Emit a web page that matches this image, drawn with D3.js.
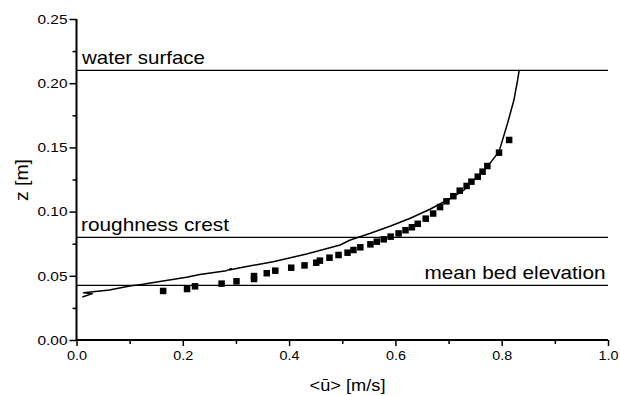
<!DOCTYPE html>
<html><head><meta charset="utf-8">
<script src="https://cdn.jsdelivr.net/npm/d3@7"></script>
<style>
html,body{margin:0;padding:0;background:#fff;}
svg{display:block;}
text{font-family:"Liberation Sans",Arial,Helvetica,sans-serif;fill:#000;}
</style></head>
<body>
<svg id="chart" width="620" height="396"></svg>
<script>
// measured points
const measU = [0.163,0.208,0.223,0.273,0.301,0.334,0.334,0.358,0.374,0.404,0.429,0.451,0.458,0.476,0.493,0.510,0.521,0.534,0.553,0.565,0.578,0.591,0.606,0.619,0.631,0.642,0.657,0.671,0.684,0.696,0.709,0.721,0.734,0.743,0.755,0.764,0.773,0.795,0.814];
const measZ = [0.0382,0.0397,0.0418,0.0439,0.0457,0.0475,0.0498,0.0520,0.0540,0.0563,0.0581,0.0602,0.0618,0.0641,0.0662,0.0680,0.0701,0.0722,0.0745,0.0766,0.0784,0.0805,0.0830,0.0855,0.0878,0.0905,0.0945,0.0985,0.1035,0.1080,0.1120,0.1163,0.1200,0.1233,0.1272,0.1311,0.1355,0.1459,0.1558];
// model profile
const modelU = [0.011,0.030,0.013,0.062,0.100,0.125,0.157,0.207,0.232,0.282,0.291,0.287,0.308,0.370,0.433,0.496,0.515,0.553,0.591,0.628,0.666,0.704,0.729,0.773,0.795,0.811,0.823,0.830,0.833];
const modelZ = [0.0335,0.0361,0.0368,0.0389,0.0421,0.0434,0.0456,0.0488,0.0510,0.0540,0.0556,0.0546,0.0563,0.0610,0.0670,0.0740,0.0779,0.0831,0.0888,0.0948,0.1020,0.1104,0.1168,0.1350,0.1467,0.1688,0.1869,0.2025,0.2103];
// reference levels
const levelNames = ["water surface","roughness crest","mean bed elevation"];
const levelZ = [0.21,0.08,0.0425];
// ticks
const xMajor = [0,0.2,0.4,0.6,0.8,1.0];
const xMajorLabels = ["0.0","0.2","0.4","0.6","0.8","1.0"];
const xMinor = [0.1,0.3,0.5,0.7,0.9];
const yMajor = [0,0.05,0.10,0.15,0.20,0.25];
const yMajorLabels = ["0.00","0.05","0.10","0.15","0.20","0.25"];
const yMinor = [0.025,0.075,0.125,0.175,0.225];
const xTitle = "<ū> [m/s]";
const yTitle = "z [m]";

const svg = d3.select("#chart");
const x = d3.scaleLinear().domain([0,1]).range([76.5,608]);
const y = d3.scaleLinear().domain([0,0.25]).range([340,19]);

// reference level lines
svg.selectAll("line.level").data(levelZ).enter().append("line")
  .attr("x1",x(0)).attr("x2",x(1))
  .attr("y1",d=>y(d)).attr("y2",d=>y(d))
  .attr("stroke","#000").attr("stroke-width",1.3);

// level labels
const lbl = [
  {t:levelNames[0], x:x(0)+5.5, y:y(levelZ[0])-6.5, a:"start", len:123},
  {t:levelNames[1], x:x(0)+4.5, y:y(levelZ[1])-6.5, a:"start", len:148},
  {t:levelNames[2], x:x(1)-2.5, y:y(levelZ[2])-6.5, a:"end", len:181}
];
svg.selectAll("text.lvl").data(lbl).enter().append("text")
  .attr("x",d=>d.a==="end"?d.x-d.len:d.x).attr("y",d=>d.y)
  .attr("font-size",19).attr("textLength",d=>d.len).attr("lengthAdjust","spacingAndGlyphs")
  .text(d=>d.t);

// model curve
const line = d3.line().x(d=>x(d[0])).y(d=>y(d[1]));
svg.append("path").datum(modelU.map((u,i)=>[u,modelZ[i]]))
  .attr("d",line).attr("fill","none").attr("stroke","#000").attr("stroke-width",1.5)
  .attr("stroke-linejoin","round");

// measured squares
const s = 6.5;
svg.selectAll("rect.pt").data(measU.map((u,i)=>[u,measZ[i]])).enter().append("rect")
  .attr("x",d=>x(d[0])-s/2).attr("y",d=>y(d[1])-s/2).attr("width",s).attr("height",s)
  .attr("fill","#000");

// axes
const xAxis = d3.axisBottom(x).tickValues(xMajor).tickSize(6).tickPadding(4)
  .tickFormat((d,i)=>xMajorLabels[i]);
const gx = svg.append("g").attr("transform",`translate(0,${y(0)})`).call(xAxis);
gx.select(".domain").attr("stroke-width",2).attr("d",`M${x(0)},0H${x(1)}`);
gx.selectAll(".tick line").attr("stroke-width",1.5);
gx.selectAll(".tick text").attr("font-size",13.5).attr("font-family","Liberation Sans, Arial, sans-serif")
  .attr("textLength",20).attr("lengthAdjust","spacingAndGlyphs");
const gxm = svg.append("g").attr("transform",`translate(0,${y(0)})`)
  .call(d3.axisBottom(x).tickValues(xMinor).tickSize(4).tickFormat(""));
gxm.select(".domain").remove();
gxm.selectAll(".tick line").attr("stroke-width",1.5);

const yAxis = d3.axisLeft(y).tickValues(yMajor).tickSize(7).tickPadding(2)
  .tickFormat((d,i)=>yMajorLabels[i]);
const gy = svg.append("g").attr("transform",`translate(${x(0)},0)`).call(yAxis);
gy.select(".domain").attr("stroke-width",2).attr("d",`M0,${y(0)+1}V${y(0.25)}`);
gy.selectAll(".tick line").attr("stroke-width",1.5);
gy.selectAll(".tick text").attr("font-size",13.5).attr("font-family","Liberation Sans, Arial, sans-serif")
  .attr("textLength",30).attr("lengthAdjust","spacingAndGlyphs");
const gym = svg.append("g").attr("transform",`translate(${x(0)},0)`)
  .call(d3.axisLeft(y).tickValues(yMinor).tickSize(4).tickFormat(""));
gym.select(".domain").remove();
gym.selectAll(".tick line").attr("stroke-width",1.5);

// titles
svg.append("text").attr("x",309.5).attr("y",390.5).attr("font-size",17)
  .attr("textLength",76).attr("lengthAdjust","spacingAndGlyphs").text(xTitle);
svg.append("text").attr("transform","translate(27.5,180) rotate(-90)")
  .attr("text-anchor","middle").attr("font-size",18)
  .attr("textLength",42).attr("lengthAdjust","spacingAndGlyphs").text(yTitle);
</script>
</body></html>
